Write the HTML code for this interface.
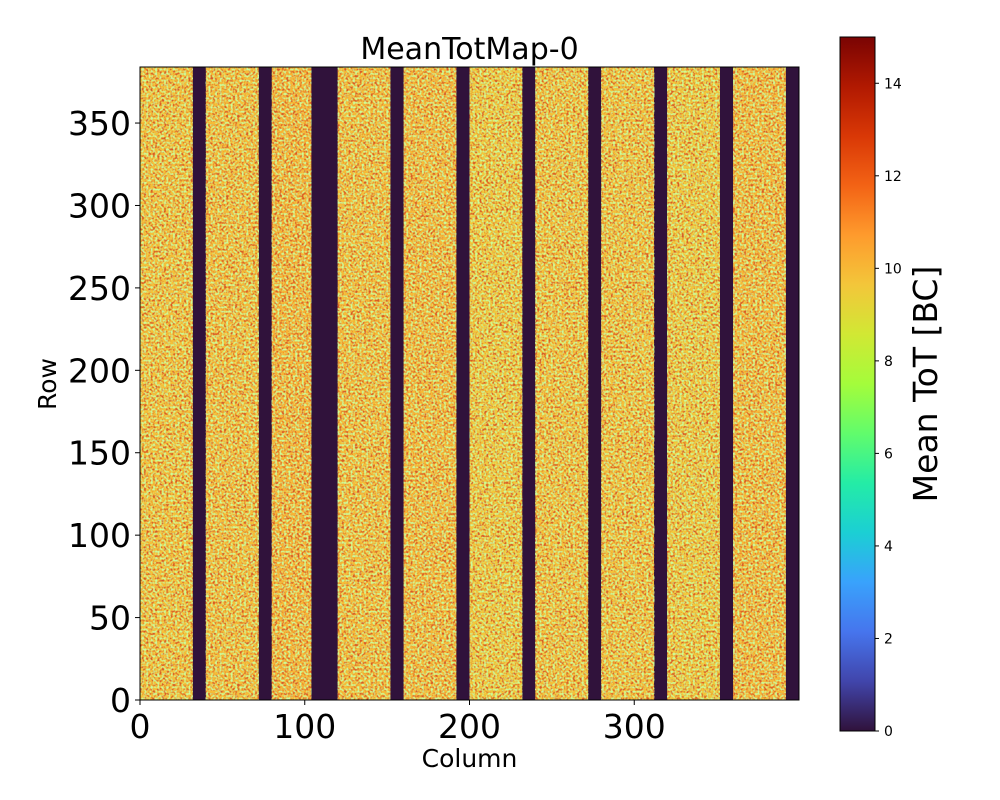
<!DOCTYPE html>
<html><head><meta charset="utf-8">
<style>
body{margin:0;background:#fff;}
svg{display:block;font-family:"DejaVu Sans","Liberation Sans",sans-serif;}
</style></head>
<body>
<svg id="chart" width="1000" height="800" viewBox="0 0 1000 800">
<defs>
<filter id="speckle" x="0" y="0" width="100%" height="100%">
<feTurbulence type="fractalNoise" baseFrequency="0.45" numOctaves="1" seed="7" result="n"/>
<feColorMatrix in="n" type="matrix" values="0 0 0 0 0.68  0 0 0 0 0.1  0 0 0 0 0.02  4 0 0 0 -1.8" result="red"/>
<feTurbulence type="fractalNoise" baseFrequency="0.45" numOctaves="1" seed="23" result="n2"/>
<feColorMatrix in="n2" type="matrix" values="0 0 0 0 0.6  0 0 0 0 0.98  0 0 0 0 0.32  4 0 0 0 -1.85" result="green"/>
<feMerge><feMergeNode in="red"/><feMergeNode in="green"/></feMerge>
</filter>
<linearGradient id="turbo" x1="0" y1="1" x2="0" y2="0"></linearGradient>
</defs>
<g id="plot"></g>
</svg>
<script>
// data
const bandStarts = [0, 40, 80, 120, 160, 200, 240, 280, 320, 360];
const bandEnds   = [32, 72, 104, 152, 192, 232, 272, 312, 352, 392];
const bandValues = [9.8, 9.9, 10.1, 9.9, 10.0, 9.6, 9.8, 9.8, 9.6, 10.0];
const xTicks = [0, 100, 200, 300];
const yTicks = [0, 50, 100, 150, 200, 250, 300, 350];
const cbTicks = [0, 2, 4, 6, 8, 10, 12, 14];
const turboStops = ["#30123b","#4145ab","#4675ed","#39a2fc","#1bcfd4","#24eca6","#61fc6c","#a4fc3b","#d1e834","#f3c63a","#fe9b2d","#f36315","#d93806","#b11901","#7a0403"];
const nCols = 400, nRows = 384, vMax = 15;

const NS = "http://www.w3.org/2000/svg";
const g = document.getElementById('plot');
const PX0 = 140, PX1 = 799, PY0 = 700, PY1 = 67;
const xs = c => PX0 + c / nCols * (PX1 - PX0);
const ys = r => PY0 - r / nRows * (PY0 - PY1);
const CBX = 840, CBW = 35, CBY0 = 731, CBY1 = 37;
const cbs = v => CBY0 - v / vMax * (CBY0 - CBY1);

function hex2rgb(h){return [1,3,5].map(i=>parseInt(h.substr(i,2),16));}
function turbo(v){
  let t = Math.max(0, Math.min(1, v / vMax)) * (turboStops.length - 1);
  let i = Math.min(Math.floor(t), turboStops.length - 2), f = t - i;
  let a = hex2rgb(turboStops[i]), b = hex2rgb(turboStops[i+1]);
  return 'rgb(' + a.map((x,k)=>Math.round(x + (b[k]-x)*f)).join(',') + ')';
}
function el(tag, attrs, parent){
  const e = document.createElementNS(NS, tag);
  for (const k in attrs) e.setAttribute(k, attrs[k]);
  (parent || g).appendChild(e);
  return e;
}

const bg = el('rect', {x: xs(0), y: ys(nRows), width: xs(nCols)-xs(0), height: ys(0)-ys(nRows), fill: turbo(0)});



const bandGroup = el('g', {});


bandStarts.forEach((s, i) => {
  const r = el('rect', {x: xs(s), y: ys(nRows), width: xs(bandEnds[i]) - xs(s), height: ys(0) - ys(nRows), fill: turbo(bandValues[i])}, bandGroup);
  
  
  const n = el('rect', {x: xs(s), y: ys(nRows), width: xs(bandEnds[i]) - xs(s), height: ys(0) - ys(nRows), fill: '#fff', filter: 'url(#speckle)'}, bandGroup);
  
  
});

const frame = el('rect', {x: PX0, y: PY1, width: PX1-PX0, height: PY0-PY1, fill: 'none', stroke: '#000', 'stroke-width': 1});



xTicks.forEach(v => {
  const x = xs(v);
  el('line', {x1: x, x2: x, y1: PY0, y2: PY0 + 5, stroke: '#000'});
  const t = el('text', {x: x, y: PY0 + 38, 'font-size': 33, 'text-anchor': 'middle', fill: '#000'});
  t.textContent = v;
  
  
});
yTicks.forEach(v => {
  const y = ys(v);
  el('line', {x1: PX0 - 5, x2: PX0, y1: y, y2: y, stroke: '#000'});
  const t = el('text', {x: PX0 - 9, y: y + 12, 'font-size': 33, 'text-anchor': 'end', fill: '#000'});
  t.textContent = v;
  
  
});

const title = el('text', {x: (PX0+PX1)/2, y: 59, 'font-size': 30, 'text-anchor': 'middle'});
title.textContent = 'MeanTotMap-0';


const xl = el('text', {x: (PX0+PX1)/2, y: 767, 'font-size': 25, 'text-anchor': 'middle'});
xl.textContent = 'Column';


const yl = el('text', {x: 0, y: 0, 'font-size': 25, 'text-anchor': 'middle', transform: 'translate(56,384) rotate(-90)'});
yl.textContent = 'Row';



const grad = document.getElementById('turbo');
turboStops.forEach((c, i) => {
  const s = document.createElementNS(NS, 'stop');
  s.setAttribute('offset', (i / (turboStops.length - 1)));
  s.setAttribute('stop-color', c);
  grad.appendChild(s);
});
const cb = el('rect', {x: CBX, y: CBY1, width: CBW, height: CBY0 - CBY1, fill: 'url(#turbo)', stroke: '#000', 'stroke-width': 1});


cbTicks.forEach(v => {
  const y = cbs(v);
  el('line', {x1: CBX + CBW, x2: CBX + CBW + 4, y1: y, y2: y, stroke: '#000'});
  const t = el('text', {x: CBX + CBW + 9, y: y + 5, 'font-size': 14});
  t.textContent = v;
  
  
});
const cl = el('text', {x: 0, y: 0, 'font-size': 33, 'text-anchor': 'middle', transform: 'translate(937,384) rotate(-90)'});
cl.textContent = 'Mean ToT [BC]';


</script>
</body></html>
